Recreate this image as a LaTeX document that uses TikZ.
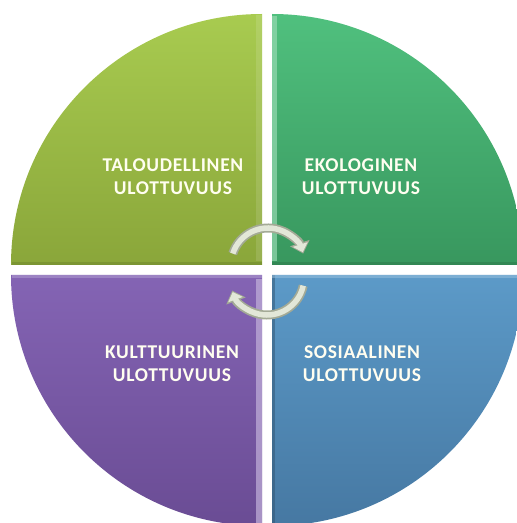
\documentclass[tikz,border=0pt]{standalone}
\usepackage{fontspec}
\usepackage{xcolor}
\usepackage{tikz}
\usetikzlibrary{arrows.meta}

\newfontfamily\labelfont[LetterSpace=3.5]{Carlito}

\definecolor{econtop}{HTML}{A8CB50}
\definecolor{econbot}{HTML}{8AA63A}
\definecolor{ecotop}{HTML}{50C07E}
\definecolor{ecobot}{HTML}{38975E}
\definecolor{culttop}{HTML}{8464B4}
\definecolor{cultbot}{HTML}{6A4C94}
\definecolor{soctop}{HTML}{5C9AC8}
\definecolor{socbot}{HTML}{4678A2}
\definecolor{arrowrim}{HTML}{A3AA96}
\definecolor{arrowface}{HTML}{E2E7D8}

\begin{document}
\begin{tikzpicture}[
    x=1pt, y=1pt,
    dimlabel/.style={font=\labelfont\bfseries\fontsize{19.5}{23}\selectfont, text=white!94!yellow, align=center},
    rimarrow/.style={line width=9pt, draw=arrowrim, -{Triangle[length=11pt,width=20pt]}},
    facearrow/.style={line width=5.5pt, draw=arrowface, shorten >=1.5pt, -{Triangle[length=8pt,width=15pt]}}
  ]

    \useasboundingbox (0,0) rectangle (517,523);
    \clip (0,0) rectangle (517,523);

    % Quadrants
    \shade[top color=econtop, bottom color=econbot] (262,258) -- (11,258) arc[start angle=180, end angle=90, radius=251] -- cycle;
    \shade[top color=ecotop, bottom color=ecobot] (272,258) -- (272,509) arc[start angle=90, end angle=0, radius=251] -- cycle;
    \shade[top color=culttop, bottom color=cultbot] (262,248) -- (11,248) arc[start angle=180, end angle=270, radius=251] -- cycle;
    \shade[top color=soctop, bottom color=socbot] (272,248) -- (272,-3) arc[start angle=270, end angle=360, radius=251] -- cycle;

    % Bevels on the inner edges
    \fill[white, opacity=0.12] (256,262) rectangle (262,508);
    \fill[econbot!80!black, opacity=0.5] (12,258) rectangle (262,261);
    \fill[ecotop!60!white, opacity=0.7] (272,262) rectangle (277,507);
    \fill[ecobot!80!black, opacity=0.5] (272,258) rectangle (522,261);
    \fill[culttop!50!white, opacity=0.7] (256,0) rectangle (262,244);
    \fill[culttop!60!white, opacity=0.5] (12,245) rectangle (262,248);
    \fill[socbot!70!black, opacity=0.5] (272,0) rectangle (275,248);
    \fill[soctop!60!white, opacity=0.5] (272,245) rectangle (522,248);

    % Labels
    \node[dimlabel] (econ) at (173,346) {TALOUDELLINEN\\ULOTTUVUUS};
    \node[dimlabel] (eco) at (361,346) {EKOLOGINEN\\ULOTTUVUUS};
    \node[dimlabel] (cult) at (172,159) {KULTTUURINEN\\ULOTTUVUUS};
    \node[dimlabel] (soc) at (362,159) {SOSIAALINEN\\ULOTTUVUUS};

    % Circular arrows in the middle
    \coordinate (tophub) at (268,258);
    \coordinate (bothub) at (267,245);
    \draw[rimarrow] ([shift={(162:37)}]tophub) arc[start angle=162, end angle=18, radius=37];
    \draw[facearrow] ([shift={(162:37)}]tophub) arc[start angle=162, end angle=18, radius=37];
    \draw[rimarrow] ([shift={(-12:37)}]bothub) arc[start angle=-12, end angle=-160, radius=37];
    \draw[facearrow] ([shift={(-12:37)}]bothub) arc[start angle=-12, end angle=-160, radius=37];

\end{tikzpicture}
\end{document}
